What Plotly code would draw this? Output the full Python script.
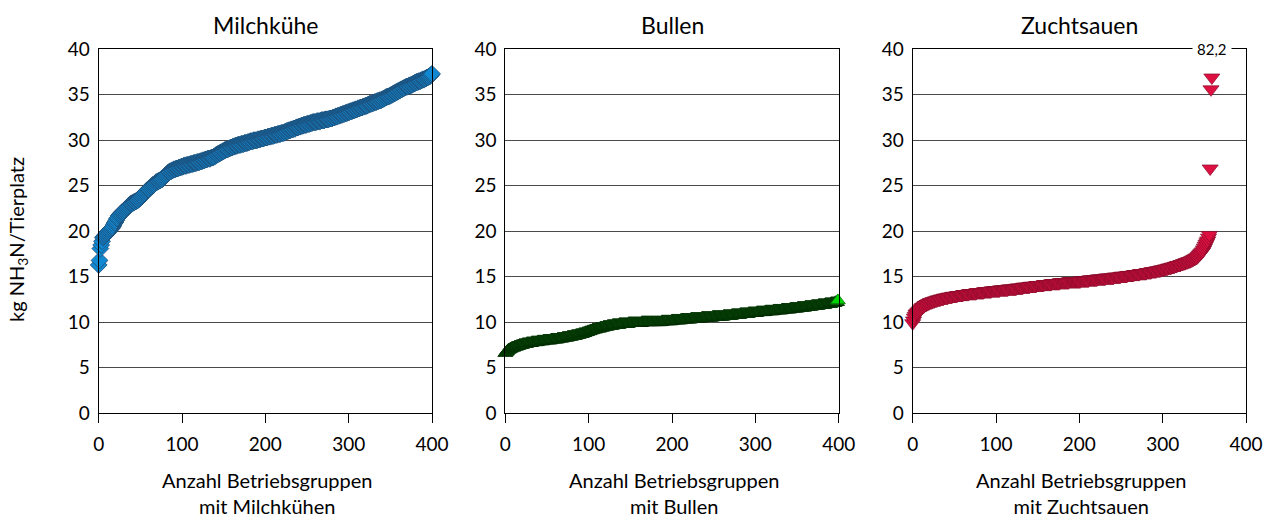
import plotly.graph_objects as go

# ---------------- data ----------------
titles = ["Milchkühe", "Bullen", "Zuchtsauen"]
xtitles = ["Anzahl Betriebsgruppen<br>mit Milchkühen",
           "Anzahl Betriebsgruppen<br>mit Bullen",
           "Anzahl Betriebsgruppen<br>mit Zuchtsauen"]
y_title = "kg NH<sub>3</sub>N/Tierplatz"
x_ticks = [0, 100, 200, 300, 400]
y_ticks = [0, 5, 10, 15, 20, 25, 30, 35, 40]

milchkuehe = [
    16.3, 16.8, 18.1, 18.5, 18.9, 19.3, 19.4, 19.5, 19.6, 19.7, 19.8, 19.9, 20.0, 20.1, 20.2, 20.3, 20.4, 20.5, 20.7, 20.9,
    21.0, 21.2, 21.4, 21.5, 21.7, 21.8, 21.9, 22.0, 22.1, 22.1, 22.2, 22.3, 22.4, 22.5, 22.6, 22.7, 22.8, 22.9, 23.0, 23.0,
    23.1, 23.1, 23.2, 23.2, 23.3, 23.3, 23.4, 23.4, 23.5, 23.6, 23.7, 23.8, 23.9, 24.0, 24.1, 24.2, 24.3, 24.4, 24.5, 24.6,
    24.6, 24.7, 24.8, 24.9, 25.0, 25.1, 25.1, 25.2, 25.3, 25.4, 25.4, 25.5, 25.5, 25.6, 25.6, 25.7, 25.7, 25.8, 25.9, 26.0,
    26.1, 26.2, 26.3, 26.4, 26.5, 26.5, 26.6, 26.6, 26.7, 26.7, 26.8, 26.8, 26.8, 26.9, 26.9, 26.9, 27.0, 27.0, 27.0, 27.1,
    27.1, 27.1, 27.2, 27.2, 27.2, 27.2, 27.3, 27.3, 27.3, 27.3, 27.4, 27.4, 27.4, 27.4, 27.5, 27.5, 27.5, 27.5, 27.6, 27.6,
    27.6, 27.6, 27.7, 27.7, 27.7, 27.8, 27.8, 27.8, 27.9, 27.9, 27.9, 28.0, 28.0, 28.0, 28.0, 28.1, 28.1, 28.1, 28.2, 28.2,
    28.3, 28.4, 28.4, 28.5, 28.5, 28.6, 28.6, 28.7, 28.7, 28.8, 28.8, 28.9, 28.9, 29.0, 29.0, 29.0, 29.1, 29.1, 29.2, 29.2,
    29.2, 29.3, 29.3, 29.3, 29.4, 29.4, 29.4, 29.5, 29.5, 29.5, 29.5, 29.6, 29.6, 29.6, 29.6, 29.7, 29.7, 29.7, 29.7, 29.8,
    29.8, 29.8, 29.9, 29.9, 29.9, 29.9, 30.0, 30.0, 30.0, 30.0, 30.0, 30.1, 30.1, 30.1, 30.1, 30.2, 30.2, 30.2, 30.2, 30.3,
    30.3, 30.3, 30.3, 30.4, 30.4, 30.4, 30.4, 30.5, 30.5, 30.5, 30.5, 30.6, 30.6, 30.6, 30.6, 30.7, 30.7, 30.7, 30.7, 30.8,
    30.8, 30.8, 30.8, 30.9, 30.9, 31.0, 31.0, 31.0, 31.1, 31.1, 31.1, 31.2, 31.2, 31.2, 31.3, 31.3, 31.3, 31.4, 31.4, 31.4,
    31.5, 31.5, 31.5, 31.6, 31.6, 31.6, 31.7, 31.7, 31.7, 31.7, 31.8, 31.8, 31.8, 31.8, 31.9, 31.9, 31.9, 32.0, 32.0, 32.0,
    32.0, 32.0, 32.1, 32.1, 32.1, 32.1, 32.1, 32.2, 32.2, 32.2, 32.2, 32.2, 32.3, 32.3, 32.3, 32.3, 32.3, 32.4, 32.4, 32.4,
    32.4, 32.5, 32.5, 32.5, 32.6, 32.6, 32.6, 32.7, 32.7, 32.7, 32.8, 32.8, 32.8, 32.9, 32.9, 32.9, 33.0, 33.0, 33.0, 33.1,
    33.1, 33.1, 33.2, 33.2, 33.2, 33.3, 33.3, 33.3, 33.4, 33.4, 33.4, 33.5, 33.5, 33.5, 33.6, 33.6, 33.6, 33.7, 33.7, 33.7,
    33.8, 33.8, 33.8, 33.9, 33.9, 34.0, 34.0, 34.0, 34.1, 34.1, 34.1, 34.2, 34.2, 34.2, 34.3, 34.3, 34.3, 34.4, 34.4, 34.4,
    34.5, 34.5, 34.6, 34.6, 34.7, 34.7, 34.8, 34.8, 34.8, 34.9, 34.9, 35.0, 35.0, 35.1, 35.1, 35.2, 35.2, 35.3, 35.3, 35.4,
    35.4, 35.5, 35.5, 35.6, 35.6, 35.7, 35.7, 35.8, 35.8, 35.9, 35.9, 35.9, 36.0, 36.0, 36.0, 36.1, 36.1, 36.2, 36.2, 36.3,
    36.3, 36.4, 36.4, 36.4, 36.5, 36.5, 36.5, 36.6, 36.6, 36.7, 36.7, 36.7, 36.8, 36.8, 36.9, 36.9, 37.0, 37.0, 37.1, 37.2,
    37.3, 37.5, 37.8,
]

bullen = [
    6.6, 6.7, 6.8, 6.9, 7.0, 7.0, 7.1, 7.1, 7.2, 7.2, 7.2, 7.3, 7.3, 7.3, 7.4, 7.4, 7.4, 7.5, 7.5, 7.5,
    7.5, 7.6, 7.6, 7.6, 7.6, 7.6, 7.7, 7.7, 7.7, 7.7, 7.7, 7.7, 7.8, 7.8, 7.8, 7.8, 7.8, 7.8, 7.8, 7.9,
    7.9, 7.9, 7.9, 7.9, 7.9, 7.9, 8.0, 8.0, 8.0, 8.0, 8.0, 8.0, 8.0, 8.0, 8.0, 8.1, 8.1, 8.1, 8.1, 8.1,
    8.1, 8.1, 8.1, 8.2, 8.2, 8.2, 8.2, 8.2, 8.2, 8.3, 8.3, 8.3, 8.3, 8.3, 8.3, 8.4, 8.4, 8.4, 8.4, 8.4,
    8.5, 8.5, 8.5, 8.5, 8.5, 8.6, 8.6, 8.6, 8.6, 8.7, 8.7, 8.7, 8.7, 8.8, 8.8, 8.8, 8.9, 8.9, 8.9, 9.0,
    9.0, 9.0, 9.1, 9.1, 9.1, 9.2, 9.2, 9.2, 9.2, 9.3, 9.3, 9.3, 9.3, 9.3, 9.4, 9.4, 9.4, 9.4, 9.5, 9.5,
    9.5, 9.5, 9.5, 9.6, 9.6, 9.6, 9.6, 9.6, 9.6, 9.7, 9.7, 9.7, 9.7, 9.7, 9.7, 9.7, 9.7, 9.8, 9.8, 9.8,
    9.8, 9.8, 9.8, 9.8, 9.8, 9.8, 9.8, 9.8, 9.9, 9.9, 9.9, 9.9, 9.9, 9.9, 9.9, 9.9, 9.9, 9.9, 9.9, 9.9,
    9.9, 9.9, 9.9, 9.9, 10.0, 10.0, 10.0, 10.0, 10.0, 10.0, 10.0, 10.0, 10.0, 10.0, 10.0, 10.0, 10.0, 10.0, 10.0, 10.0,
    10.0, 10.0, 10.0, 10.0, 10.0, 10.0, 10.0, 10.0, 10.1, 10.1, 10.1, 10.1, 10.1, 10.1, 10.1, 10.1, 10.1, 10.1, 10.1, 10.1,
    10.2, 10.2, 10.2, 10.2, 10.2, 10.2, 10.2, 10.2, 10.2, 10.2, 10.2, 10.3, 10.3, 10.3, 10.3, 10.3, 10.3, 10.3, 10.3, 10.3,
    10.3, 10.3, 10.3, 10.4, 10.4, 10.4, 10.4, 10.4, 10.4, 10.4, 10.4, 10.4, 10.4, 10.4, 10.4, 10.4, 10.5, 10.5, 10.5, 10.5,
    10.5, 10.5, 10.5, 10.5, 10.5, 10.5, 10.5, 10.5, 10.5, 10.6, 10.6, 10.6, 10.6, 10.6, 10.6, 10.6, 10.6, 10.6, 10.6, 10.6,
    10.6, 10.6, 10.7, 10.7, 10.7, 10.7, 10.7, 10.7, 10.7, 10.7, 10.7, 10.7, 10.8, 10.8, 10.8, 10.8, 10.8, 10.8, 10.8, 10.8,
    10.8, 10.8, 10.9, 10.9, 10.9, 10.9, 10.9, 10.9, 10.9, 10.9, 10.9, 10.9, 11.0, 11.0, 11.0, 11.0, 11.0, 11.0, 11.0, 11.0,
    11.0, 11.0, 11.1, 11.1, 11.1, 11.1, 11.1, 11.1, 11.1, 11.1, 11.1, 11.1, 11.2, 11.2, 11.2, 11.2, 11.2, 11.2, 11.2, 11.2,
    11.2, 11.2, 11.3, 11.3, 11.3, 11.3, 11.3, 11.3, 11.3, 11.3, 11.3, 11.3, 11.4, 11.4, 11.4, 11.4, 11.4, 11.4, 11.4, 11.4,
    11.4, 11.4, 11.5, 11.5, 11.5, 11.5, 11.5, 11.5, 11.5, 11.5, 11.5, 11.6, 11.6, 11.6, 11.6, 11.6, 11.6, 11.6, 11.6, 11.6,
    11.7, 11.7, 11.7, 11.7, 11.7, 11.7, 11.7, 11.7, 11.8, 11.8, 11.8, 11.8, 11.8, 11.8, 11.8, 11.8, 11.9, 11.9, 11.9, 11.9,
    11.9, 11.9, 11.9, 11.9, 12.0, 12.0, 12.0, 12.0, 12.0, 12.0, 12.0, 12.1, 12.1, 12.1, 12.1, 12.1, 12.2, 12.2, 12.2, 12.4,
]

zuchtsauen = [
    9.9, 10.2, 10.5, 10.7, 10.9, 11.0, 11.1, 11.2, 11.3, 11.4, 11.5, 11.6, 11.7, 11.7, 11.8, 11.9, 11.9, 12.0, 12.0, 12.1,
    12.1, 12.2, 12.2, 12.2, 12.3, 12.3, 12.3, 12.4, 12.4, 12.4, 12.5, 12.5, 12.5, 12.5, 12.6, 12.6, 12.6, 12.6, 12.7, 12.7,
    12.7, 12.7, 12.7, 12.8, 12.8, 12.8, 12.8, 12.8, 12.9, 12.9, 12.9, 12.9, 12.9, 12.9, 13.0, 13.0, 13.0, 13.0, 13.0, 13.0,
    13.0, 13.1, 13.1, 13.1, 13.1, 13.1, 13.1, 13.1, 13.2, 13.2, 13.2, 13.2, 13.2, 13.2, 13.2, 13.2, 13.2, 13.3, 13.3, 13.3,
    13.3, 13.3, 13.3, 13.3, 13.3, 13.3, 13.4, 13.4, 13.4, 13.4, 13.4, 13.4, 13.4, 13.4, 13.4, 13.5, 13.5, 13.5, 13.5, 13.5,
    13.5, 13.5, 13.5, 13.5, 13.5, 13.6, 13.6, 13.6, 13.6, 13.6, 13.6, 13.6, 13.6, 13.6, 13.6, 13.7, 13.7, 13.7, 13.7, 13.7,
    13.7, 13.7, 13.7, 13.7, 13.7, 13.8, 13.8, 13.8, 13.8, 13.8, 13.8, 13.8, 13.8, 13.9, 13.9, 13.9, 13.9, 13.9, 13.9, 13.9,
    13.9, 14.0, 14.0, 14.0, 14.0, 14.0, 14.0, 14.0, 14.0, 14.1, 14.1, 14.1, 14.1, 14.1, 14.1, 14.1, 14.1, 14.1, 14.2, 14.2,
    14.2, 14.2, 14.2, 14.2, 14.2, 14.2, 14.2, 14.3, 14.3, 14.3, 14.3, 14.3, 14.3, 14.3, 14.3, 14.3, 14.3, 14.4, 14.4, 14.4,
    14.4, 14.4, 14.4, 14.4, 14.4, 14.4, 14.4, 14.4, 14.5, 14.5, 14.5, 14.5, 14.5, 14.5, 14.5, 14.5, 14.5, 14.5, 14.5, 14.5,
    14.5, 14.5, 14.6, 14.6, 14.6, 14.6, 14.6, 14.6, 14.6, 14.6, 14.6, 14.6, 14.7, 14.7, 14.7, 14.7, 14.7, 14.7, 14.7, 14.7,
    14.7, 14.7, 14.8, 14.8, 14.8, 14.8, 14.8, 14.8, 14.8, 14.8, 14.8, 14.8, 14.9, 14.9, 14.9, 14.9, 14.9, 14.9, 14.9, 14.9,
    14.9, 14.9, 15.0, 15.0, 15.0, 15.0, 15.0, 15.0, 15.0, 15.0, 15.1, 15.1, 15.1, 15.1, 15.1, 15.1, 15.1, 15.1, 15.2, 15.2,
    15.2, 15.2, 15.2, 15.2, 15.2, 15.2, 15.3, 15.3, 15.3, 15.3, 15.3, 15.3, 15.3, 15.4, 15.4, 15.4, 15.4, 15.4, 15.4, 15.4,
    15.4, 15.5, 15.5, 15.5, 15.5, 15.5, 15.5, 15.6, 15.6, 15.6, 15.6, 15.6, 15.6, 15.7, 15.7, 15.7, 15.7, 15.7, 15.8, 15.8,
    15.8, 15.8, 15.8, 15.9, 15.9, 15.9, 15.9, 16.0, 16.0, 16.0, 16.0, 16.1, 16.1, 16.1, 16.1, 16.2, 16.2, 16.2, 16.3, 16.3,
    16.3, 16.3, 16.4, 16.4, 16.4, 16.5, 16.5, 16.5, 16.6, 16.6, 16.6, 16.7, 16.7, 16.7, 16.8, 16.8, 16.9, 16.9, 17.0, 17.0,
    17.1, 17.1, 17.2, 17.3, 17.4, 17.5, 17.6, 17.7, 17.8, 18.0, 18.2, 18.4, 18.6, 18.8, 19.0, 19.3, 19.6, 26.9, 35.6, 82.2,
]

# values above the axis maximum are drawn at a "broken axis" position and labelled
y_max = 40
break_display = 36.9

# ---------------- styling ----------------
W, H = 1270, 517
FONT = "Lato"
panels_px = [(98.7, 432.0), (505.3, 838.7), (912.7, 1246.0)]
top_px, bottom_px = 49.3, 413.3

def px_x(p):
    return p / W

def px_y(p):
    return 1 - p / H

fig = go.Figure()

# Milchkühe
fig.add_trace(go.Scatter(
    x=list(range(len(milchkuehe))), y=milchkuehe, mode="markers",
    marker=dict(symbol="diamond", size=13, color="#1189d2",
                line=dict(color="#1e4a72", width=0.8)),
    cliponaxis=False, xaxis="x", yaxis="y", showlegend=False))

# Bullen (last point highlighted bright green as in the original)
b_colors = ["#0e560e"] * (len(bullen) - 1) + ["#00d400"]
b_lines = ["#033003"] * (len(bullen) - 1) + ["#007000"]
fig.add_trace(go.Scatter(
    x=list(range(len(bullen))), y=bullen, mode="markers",
    marker=dict(symbol="triangle-up", size=13, color=b_colors,
                line=dict(color=b_lines, width=0.8)),
    cliponaxis=False, xaxis="x2", yaxis="y2", showlegend=False))

# Zuchtsauen
z_plot = [v if v <= y_max else break_display for v in zuchtsauen]
fig.add_trace(go.Scatter(
    x=list(range(len(zuchtsauen))), y=z_plot, mode="markers",
    marker=dict(symbol="triangle-down", size=14, color="#de1042",
                line=dict(color="#860c2a", width=0.7)),
    cliponaxis=False, xaxis="x3", yaxis="y3", showlegend=False))

axis_common = dict(
    showline=True, linecolor="black", linewidth=1, mirror=True,
    zeroline=False, automargin=False,
    tickfont=dict(family=FONT, size=19, color="black"),
)

for i, (l, r) in enumerate(panels_px):
    sx = "" if i == 0 else str(i + 1)
    fig.update_layout({
        f"xaxis{sx}": dict(
            domain=[px_x(l), px_x(r)], range=[0, 400], anchor=f"y{sx}",
            tickvals=x_ticks, ticks="outside", ticklen=9, tickcolor="black",
            showgrid=False, ticklabelstandoff=5, **axis_common),
        f"yaxis{sx}": dict(
            domain=[px_y(bottom_px), px_y(top_px)], range=[0, y_max], anchor=f"x{sx}",
            tickvals=y_ticks, ticks="", showgrid=True, gridcolor="#4a4a4a", gridwidth=1,
            ticklabelstandoff=4, **axis_common),
    })

annotations = []
for i, (l, r) in enumerate(panels_px):
    cx = px_x((l + r) / 2)
    annotations.append(dict(text=titles[i], x=cx, y=px_y(25), xref="paper", yref="paper",
                            showarrow=False, xanchor="center", yanchor="middle",
                            font=dict(family=FONT, size=23, color="black")))
    annotations.append(dict(text=xtitles[i], x=cx + 2 / W, y=px_y(493), xref="paper", yref="paper",
                            showarrow=False, xanchor="center", yanchor="middle",
                            font=dict(family=FONT, size=20, color="black")))

annotations.append(dict(text=y_title, x=px_x(18), y=px_y(240), xref="paper", yref="paper",
                        showarrow=False, textangle=-90, xanchor="center", yanchor="middle",
                        font=dict(family=FONT, size=20, color="black")))

# label for the off-scale value
for i, v in enumerate(zuchtsauen):
    if v > y_max:
        annotations.append(dict(text=f"{v:.1f}".replace(".", ","), x=i, y=y_max,
                                xref="x3", yref="y3", showarrow=False,
                                xanchor="center", yanchor="middle",
                                bgcolor="white", borderpad=4,
                                font=dict(family=FONT, size=15, color="black")))

fig.update_layout(
    width=W, height=H,
    margin=dict(l=0, r=0, t=0, b=0, pad=0, autoexpand=False),
    paper_bgcolor="white", plot_bgcolor="white",
    annotations=annotations, showlegend=False,
)

fig.write_html(
    "out.html",
    config={"displayModeBar": False, "staticPlot": False},
    post_script="document.body.style.margin='0';document.body.style.padding='0';"
                "document.documentElement.style.overflow='hidden';",
)
